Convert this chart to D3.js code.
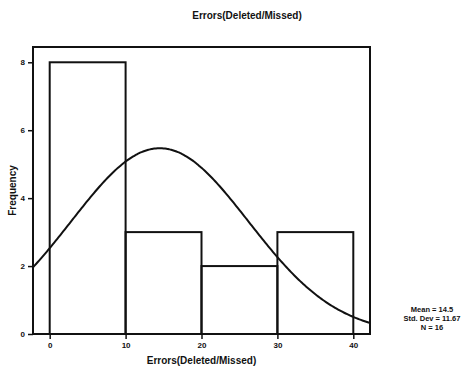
<!DOCTYPE html>
<html>
<head>
<meta charset="utf-8">
<script src="https://cdn.jsdelivr.net/npm/d3@7"></script>
<style>
  body { margin: 0; background: #fff; }
  text { font-family: "Liberation Sans", Arial, sans-serif; font-weight: bold; fill: #111; }
</style>
</head>
<body>
<svg id="chart" width="468" height="373"></svg>
<script>
// histogram bins (lower edge, upper edge) and counts
const binStarts = [0, 10, 20, 30];
const binWidth = 10;
const counts = [8, 3, 2, 3];
const xTicks = [0, 10, 20, 30, 40];
const yTicks = [0, 2, 4, 6, 8];
// fitted normal curve parameters
const mean = 14.5;
const stdDev = 11.67;
const n = 16;
const statLines = ['Mean = 14.5', 'Std. Dev = 11.67', 'N = 16'];
const title = 'Errors(Deleted/Missed)';

const svg = d3.select('#chart');
const margin = { top: 47, right: 98, bottom: 39, left: 33 };
const width = 468 - margin.left - margin.right;
const height = 373 - margin.top - margin.bottom;

const x = d3.scaleLinear().domain([-2.2, 42.2]).range([0, width]);
const y = d3.scaleLinear().domain([0, 8.45]).range([height, 0]);

const g = svg.append('g').attr('transform', `translate(${margin.left},${margin.top})`);

// bars
g.selectAll('rect.bar')
  .data(counts)
  .enter().append('rect')
    .attr('class', 'bar')
    .attr('x', (d, i) => x(binStarts[i]))
    .attr('y', d => y(d))
    .attr('width', (d, i) => x(binStarts[i] + binWidth) - x(binStarts[i]))
    .attr('height', d => y(0) - y(d))
    .attr('fill', 'none')
    .attr('stroke', '#111')
    .attr('stroke-width', 2);

// normal curve
const xs = d3.range(x.domain()[0], x.domain()[1] + 0.01, 0.2);
const pdf = v => n * binWidth / (stdDev * Math.sqrt(2 * Math.PI)) *
  Math.exp(-0.5 * Math.pow((v - mean) / stdDev, 2));
const line = d3.line().x(d => x(d)).y(d => y(pdf(d))).curve(d3.curveBasis);
g.append('path')
  .datum(xs)
  .attr('d', line)
  .attr('fill', 'none')
  .attr('stroke', '#111')
  .attr('stroke-width', 2);

// frame
g.append('rect')
  .attr('width', width)
  .attr('height', height)
  .attr('fill', 'none')
  .attr('stroke', '#111')
  .attr('stroke-width', 2);

// axes
const xAxis = g.append('g')
  .attr('transform', `translate(0,${height})`)
  .call(d3.axisBottom(x).tickValues(xTicks).tickSize(5).tickPadding(3));
const yAxis = g.append('g')
  .call(d3.axisLeft(y).tickValues(yTicks).tickSize(5).tickPadding(3));
[xAxis, yAxis].forEach(a => {
  a.select('.domain').remove();
  a.selectAll('line').attr('stroke', '#111').attr('stroke-width', 1.5);
  a.selectAll('text').style('font-size', '8px').style('font-family', '"Liberation Sans", Arial, sans-serif').style('font-weight', 'bold');
});

// titles
svg.append('text')
  .attr('x', 247).attr('y', 19)
  .attr('text-anchor', 'middle')
  .style('font-size', '10px')
  .text(title);

svg.append('text')
  .attr('x', margin.left + width / 2).attr('y', 364)
  .attr('text-anchor', 'middle')
  .style('font-size', '10px')
  .text(title);

svg.append('text')
  .attr('transform', `translate(16,${margin.top + height / 2}) rotate(-90)`)
  .attr('text-anchor', 'middle')
  .style('font-size', '10px')
  .text('Frequency');

// stats
svg.selectAll('text.stat')
  .data(statLines)
  .enter().append('text')
    .attr('class', 'stat')
    .attr('x', 432)
    .attr('y', (d, i) => 312 + i * 9)
    .attr('text-anchor', 'middle')
    .style('font-size', '7.5px')
    .text(d => d);
</script>
</body>
</html>
